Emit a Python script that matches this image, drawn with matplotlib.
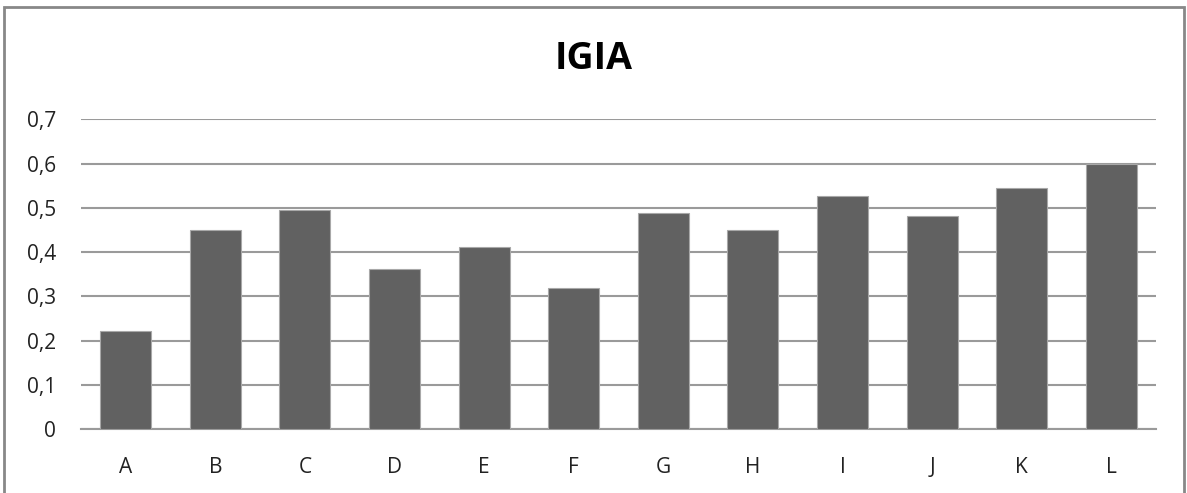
import matplotlib.pyplot as plt
from matplotlib.patches import Rectangle

categorias = ['A', 'B', 'C', 'D', 'E', 'F', 'G', 'H', 'I', 'J', 'K', 'L']
valores = [0.221, 0.449, 0.496, 0.362, 0.412, 0.318, 0.489, 0.449, 0.527, 0.481, 0.544, 0.598]
yticks = [0, 0.1, 0.2, 0.3, 0.4, 0.5, 0.6, 0.7]
yrotulos = ['0', '0,1', '0,2', '0,3', '0,4', '0,5', '0,6', '0,7']

plt.rcParams['font.family'] = ['Open Sans', 'DejaVu Sans']

fig = plt.figure(figsize=(11.87, 4.93), dpi=100)
ax = fig.add_axes([81/1187, 63.7/493, (1156-81)/1187, 310/493])

x = range(len(categorias))
ax.bar(x, valores, width=0.57, color='#616161', edgecolor='#a8a8a8', linewidth=0.8, zorder=3)

ax.set_xlim(-0.5, len(categorias) - 0.5)
ax.set_ylim(0, 0.7)
ax.set_yticks(yticks)
ax.set_yticklabels(yrotulos)
ax.set_xticks(list(x))
ax.set_xticklabels(categorias)
ax.tick_params(axis='both', length=0, labelsize=15, colors='#222222')
ax.tick_params(axis='y', pad=18)
ax.tick_params(axis='x', pad=20)

ax.grid(axis='y', color='#9a9a9a', linewidth=1.5, zorder=0)
for s in ['top', 'right', 'left']:
    ax.spines[s].set_visible(False)
ax.spines['bottom'].set_color('#9a9a9a')
ax.spines['bottom'].set_linewidth(1.5)

fig.text(0.5, 1 - 59/493, 'IGIA', ha='center', va='center', fontsize=27, fontweight='bold')

# moldura da área do gráfico
fig.patches.append(Rectangle((4/1187, -0.05), 1180/1187, 1.05 - 7/493,
                             transform=fig.transFigure, fill=False,
                             edgecolor='#888888', linewidth=2))

fig.savefig('out.png', dpi=100)
